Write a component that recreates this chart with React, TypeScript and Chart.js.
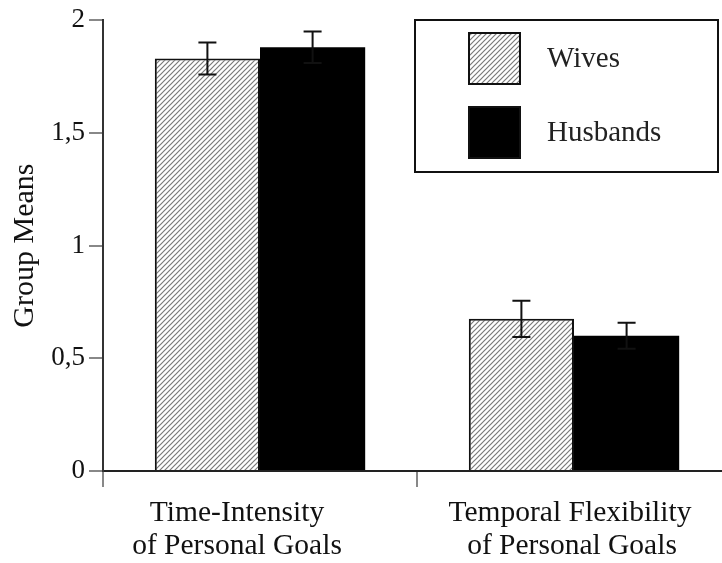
import { useEffect, useRef } from "react";
import { Chart, registerables } from "chart.js";

Chart.register(...registerables);

const categories = [
  ["Time-Intensity", "of Personal Goals"],
  ["Temporal Flexibility", "of Personal Goals"],
];
const seriesNames = ["Wives", "Husbands"];
const wivesMeans = [1.83, 0.675];
const wivesErrors = [0.071, 0.08];
const husbandsMeans = [1.88, 0.6];
const husbandsErrors = [0.07, 0.058];
const yTickValues = [0, 0.5, 1, 1.5, 2];
const yTickLabels = ["0", "0,5", "1", "1,5", "2"];
const yTitle = "Group Means";

const SERIF = '"Liberation Serif", "Times New Roman", serif';
const labelShift = [-23, -4];

function makeHatch(): CanvasPattern | string {
  const s = 5;
  const c = document.createElement("canvas");
  c.width = s;
  c.height = s;
  const g = c.getContext("2d");
  if (!g) return "#ccc";
  g.fillStyle = "#ffffff";
  g.fillRect(0, 0, s, s);
  g.strokeStyle = "#7a7a7a";
  g.lineWidth = 1.2;
  g.beginPath();
  g.moveTo(0, s);
  g.lineTo(s, 0);
  g.moveTo(-1, 1);
  g.lineTo(1, -1);
  g.moveTo(s - 1, s + 1);
  g.lineTo(s + 1, s - 1);
  g.stroke();
  const p = g.createPattern(c, "repeat");
  return p || "#ccc";
}

const errorBarPlugin = {
  id: "errorBars",
  afterDatasetsDraw(chart: any) {
    const ctx = chart.ctx;
    const yScale = chart.scales.y;
    chart.data.datasets.forEach((ds: any, di: number) => {
      const meta = chart.getDatasetMeta(di);
      if (!ds.errors) return;
      meta.data.forEach((bar: any, i: number) => {
        const v = ds.data[i];
        const e = ds.errors[i];
        const yt = yScale.getPixelForValue(v + e);
        const yb = yScale.getPixelForValue(v - e);
        const x = bar.x;
        const half = 9;
        ctx.save();
        ctx.strokeStyle = "#111";
        ctx.lineWidth = 2;
        ctx.beginPath();
        ctx.moveTo(x, yt);
        ctx.lineTo(x, yb);
        ctx.moveTo(x - half, yt);
        ctx.lineTo(x + half, yt);
        ctx.moveTo(x - half, yb);
        ctx.lineTo(x + half, yb);
        ctx.stroke();
        ctx.restore();
      });
    });
  },
};

const categoryLabelPlugin = {
  id: "categoryLabels",
  afterDraw(chart: any) {
    const ctx = chart.ctx;
    const xScale = chart.scales.x;
    const base = chart.chartArea.bottom;
    ctx.save();
    ctx.fillStyle = "#111";
    ctx.font = `29.5px ${SERIF}`;
    ctx.textAlign = "center";
    ctx.textBaseline = "alphabetic";
    (chart.data.labels as any[]).forEach((lab: any, i: number) => {
      const x = xScale.getPixelForTick(i) + labelShift[i];
      const lines = Array.isArray(lab) ? lab : [lab];
      lines.forEach((t: string, j: number) => {
        ctx.fillText(t, x + (j === 1 && i === 1 ? 2 : 0), base + 50 + j * 33);
      });
    });
    ctx.restore();
  },
};

const boxLegendPlugin = {
  id: "boxLegend",
  afterDraw(chart: any) {
    const ctx = chart.ctx;
    const bx = 415;
    const by = 20;
    const bw = 303;
    const bh = 152;
    ctx.save();
    ctx.fillStyle = "#ffffff";
    ctx.fillRect(bx, by, bw, bh);
    ctx.strokeStyle = "#111";
    ctx.lineWidth = 2;
    ctx.strokeRect(bx, by, bw, bh);
    chart.data.datasets.forEach((ds: any, i: number) => {
      const sx = 469;
      const sy = 33 + i * 74;
      const ss = 51;
      ctx.fillStyle = ds.backgroundColor;
      ctx.fillRect(sx, sy, ss, ss);
      ctx.strokeStyle = "#111";
      ctx.lineWidth = 2;
      ctx.strokeRect(sx, sy, ss, ss);
      ctx.fillStyle = "#222";
      ctx.font = `29px ${SERIF}`;
      ctx.textBaseline = "middle";
      ctx.textAlign = "left";
      ctx.fillText(ds.label, 547, sy + ss / 2 + 1);
    });
    ctx.restore();
  },
};

export default function App() {
  const ref = useRef<HTMLCanvasElement | null>(null);

  useEffect(() => {
    document.body.style.margin = "0";
    const canvas = ref.current;
    if (!canvas) return;
    const hatch = makeHatch();
    const chart = new Chart(canvas, {
      type: "bar",
      data: {
        labels: categories as any,
        datasets: [
          {
            label: seriesNames[0],
            data: wivesMeans,
            errors: wivesErrors,
            backgroundColor: hatch as any,
            borderColor: "#111",
            borderWidth: 2,
            borderSkipped: "bottom",
            categoryPercentage: 0.67,
            barPercentage: 1,
          } as any,
          {
            label: seriesNames[1],
            data: husbandsMeans,
            errors: husbandsErrors,
            backgroundColor: "#000000",
            borderColor: "#000000",
            borderWidth: 0,
            categoryPercentage: 0.67,
            barPercentage: 1,
          } as any,
        ],
      },
      options: {
        responsive: false,
        animation: false,
        devicePixelRatio: 1,
        layout: { padding: { top: 15, right: 1, bottom: 0, left: 0 } },
        plugins: {
          legend: { display: false },
          tooltip: { enabled: false },
        },
        scales: {
          x: {
            grid: {
              offset: true,
              drawOnChartArea: false,
              tickLength: 16,
              color: "#888",
              lineWidth: 2,
            },
            border: { color: "#222", width: 2 },
            ticks: {
              display: false,
            },
            afterFit(scale: any) {
              scale.height = 92;
            },
          },
          y: {
            min: 0,
            max: 2,
            afterBuildTicks(scale: any) {
              scale.ticks = yTickValues.map((v) => ({ value: v }));
            },
            grid: {
              drawOnChartArea: false,
              tickLength: 14,
              color: "#888",
              lineWidth: 2,
            },
            border: { color: "#333", width: 2 },
            ticks: {
              color: "#111",
              padding: 4,
              font: { family: SERIF, size: 27 },
              callback: (v: any) => {
                const idx = yTickValues.indexOf(Number(v));
                return idx >= 0 ? yTickLabels[idx] : "";
              },
            },
            title: {
              display: true,
              text: yTitle,
              color: "#111",
              font: { family: SERIF, size: 30 },
              padding: { top: 7, bottom: 0 },
            },
            afterFit(scale: any) {
              scale.width = 103;
            },
          },
        },
      },
      plugins: [errorBarPlugin, categoryLabelPlugin, boxLegendPlugin],
    } as any);
    return () => chart.destroy();
  }, []);

  return (
    <div style={{ width: 722, height: 563, overflow: "hidden", position: "relative", background: "#fff" }}>
      <canvas ref={ref} width={732} height={563} style={{ width: 732, height: 563, display: "block" }} />
    </div>
  );
}
